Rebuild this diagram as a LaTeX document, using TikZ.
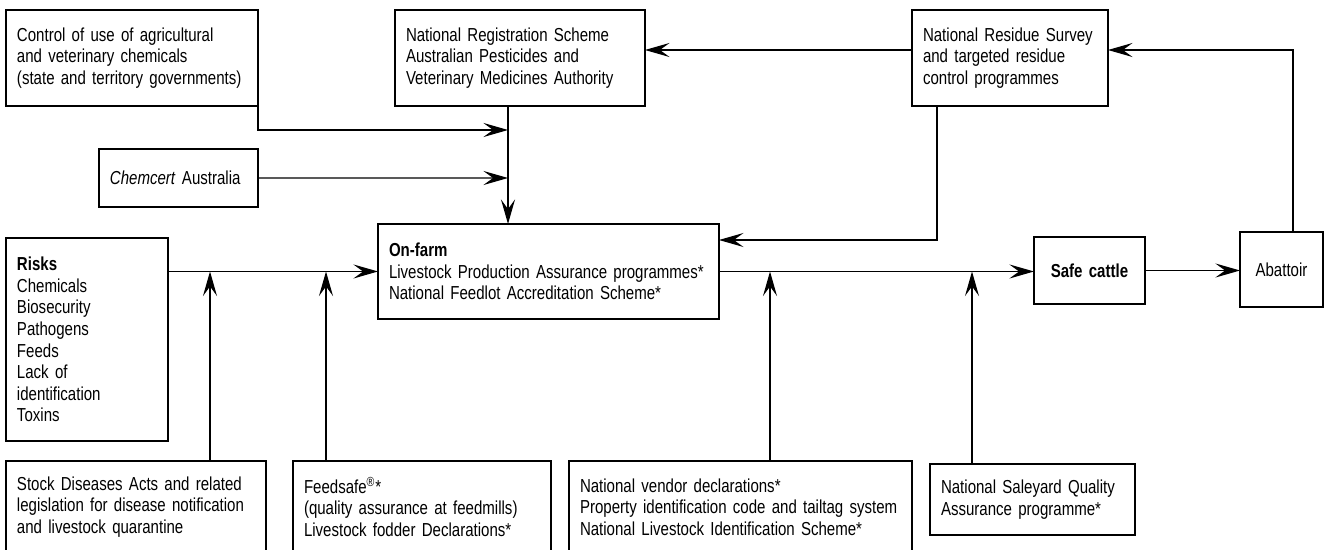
\documentclass[tikz,border=0pt]{standalone}
\usepackage{fontspec}
\setmainfont{Liberation Sans}[FakeStretch=0.8]
\hyphenpenalty=10000
\usetikzlibrary{arrows.meta, calc, positioning}

\begin{document}
\begin{tikzpicture}[x=0.02cm, y=-0.02cm,
                        >={Stealth[length=14pt, width=8pt, inset=5.5pt]},
                        line width=0.7pt,
                        font=\fontsize{10.7}{12.3}\selectfont,
                        box/.style={draw, anchor=north west, align=left, inner xsep=0.22cm, inner ysep=0pt, outer sep=0pt},
                        midbox/.style={box, align=center}]
                        \clip (0, 0) rectangle (1324, 550);
                        \node[box, text width=4.6cm, minimum height=1.92cm] (ctrl) at (6, 10) {Control of use of agricultural\\and veterinary chemicals\\(state and territory governments)};
                        \node[box, text width=4.56cm, minimum height=1.92cm] (nrs) at (395, 10) {National Registration Scheme\\Australian Pesticides and\\Veterinary Medicines Authority};
                        \node[box, text width=3.48cm, minimum height=1.92cm] (survey) at (912, 10) {National Residue Survey\\and targeted residue\\control programmes};
                        \node[box, text width=2.74cm, minimum height=1.16cm] (chem) at (99, 149) {\textit{Chemcert} Australia};
                        \node[box, text width=2.8cm, minimum height=4.06cm] (risks) at (6, 238) {\textbf{Risks}\\Chemicals\\Biosecurity\\Pathogens\\Feeds\\Lack of\\identification\\Toxins};
                        \node[box, text width=6.38cm, minimum height=1.9cm] (farm) at (378, 224) {\textbf{On-farm}\\Livestock Production Assurance programmes*\\National Feedlot Accreditation Scheme*};
                        \node[midbox, text width=1.78cm, minimum height=1.34cm] (safe) at (1034, 237) {\textbf{Safe cattle}};
                        \node[midbox, text width=1.22cm, minimum height=1.5cm] (abat) at (1240, 232) {Abattoir};
                        \node[box, text width=4.76cm, minimum height=1.84cm] (stock) at (6, 461) {Stock Diseases Acts and related\\legislation for disease notification\\and livestock quarantine};
                        \node[box, text width=4.72cm, minimum height=1.84cm] (feed) at (293, 461) {Feedsafe\textsuperscript{\textregistered}*\\(quality assurance at feedmills)\\Livestock fodder Declarations*};
                        \node[box, text width=6.42cm, minimum height=1.84cm] (nvd) at (569, 461) {National vendor declarations*\\Property identification code and tailtag system\\National Livestock Identification Scheme*};
                        \node[box, text width=3.66cm, minimum height=1.42cm] (nsqa) at (930, 464) {National Saleyard Quality\\Assurance programme*};
                        \coordinate (nrsfoot) at (508, 106);
                        \coordinate (ctrlin) at (508, 130);
                        \coordinate (chemin) at (508, 178);
                        \coordinate (recheck) at (1293, 50);
                        \coordinate (srvdown) at (937, 240);
                        \coordinate (j1) at (210, 0);
                        \coordinate (j2) at (326, 0);
                        \coordinate (j3) at (770, 0);
                        \coordinate (j4) at (972, 0);
                        \draw
                        (ctrl.south east) edge[->, to path={|- (\tikztotarget)}] (ctrlin)
                        (chem.east) edge[->] (chemin)
                        (nrsfoot) edge[->] (farm.north -| nrsfoot)
                        (abat.north -| recheck) edge[->, to path={|- (\tikztotarget)}] (survey.east |- recheck)
                        (survey.west |- recheck) edge[->] (nrs.east |- recheck)
                        (survey.south -| srvdown) edge[->, to path={|- (\tikztotarget)}] (farm.east |- srvdown)
                        (risks.east |- farm.west) edge[->] (farm.west)
                        (stock.north -| j1) edge[->] (j1 |- farm.west)
                        (feed.north -| j2) edge[->] (j2 |- farm.west)
                        (farm.east) edge[->] (farm.east -| safe.west)
                        (nvd.north -| j3) edge[->] (j3 |- farm.east)
                        (nsqa.north -| j4) edge[->] (j4 |- farm.east)
                        (safe.east) edge[->] (safe.east -| abat.west);
                    \end{tikzpicture}
\end{document}
